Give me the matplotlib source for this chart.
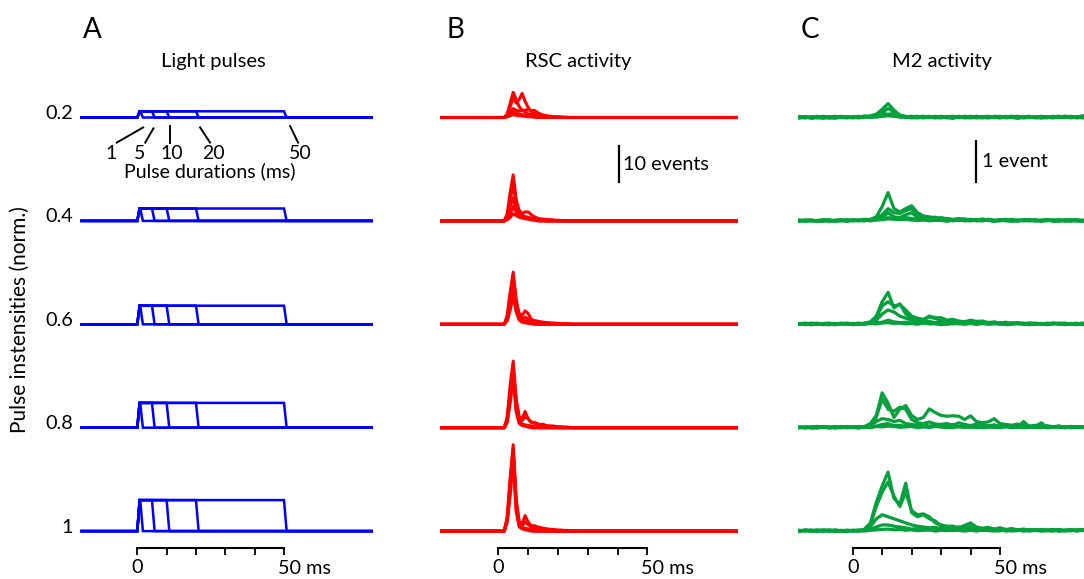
import numpy as np
import matplotlib.pyplot as plt

plt.rcParams['font.family'] = ['Lato', 'DejaVu Sans']

# ---- data ----
intensities = [0.2, 0.4, 0.6, 0.8, 1.0]
intensity_labels = ['0.2', '0.4', '0.6', '0.8', '1']
durations = [1, 5, 10, 20, 50]          # ms
rise_ms = 0.8                            # light ramp up/down
fall_ms = 0.9

# RSC activity (events), 1 ms bins starting at pulse onset; zero elsewhere
rsc_t0 = 0
rsc = [
    [[0, 0, 0, 1.0, 4.0, 7.0, 5.0, 3.0, 2.0, 1.5, 1.0, 0.8, 0.6, 0.5, 0.4, 0.3, 0.3, 0.2, 0.2, 0.1, 0.1, 0.1],
     [0, 0, 0, 0.8, 3.0, 5.5, 4.0, 5.0, 6.7, 4.5, 2.8, 1.8, 2.0, 1.5, 1.0, 0.7, 0.5, 0.4, 0.3, 0.2, 0.2, 0.1, 0.1, 0.1],
     [0, 0, 0, 0.5, 1.5, 2.5, 2.0, 1.8, 2.0, 2.0, 2.2, 1.8, 1.2, 0.8, 0.5, 0.4, 0.3, 0.2, 0.2, 0.1, 0.1],
     [0, 0, 0, 0.3, 1.0, 1.5, 1.2, 1.0, 0.8, 0.6, 0.5, 0.4, 0.3, 0.2, 0.2, 0.1],
     [0, 0, 0, 0.2, 0.5, 0.8, 0.6, 0.5, 0.4, 0.3, 0.2, 0.2, 0.1]],
    [[0, 0, 0, 2.0, 8.0, 12.8, 6.0, 2.5, 1.5, 1.2, 1.0, 0.8, 0.6, 0.5, 0.4, 0.3, 0.3, 0.2, 0.2, 0.1, 0.1, 0.1],
     [0, 0, 0, 1.5, 6.0, 10.0, 5.0, 3.0, 2.0, 2.5, 2.5, 1.8, 1.2, 0.8, 0.6, 0.5, 0.4, 0.3, 0.3, 0.2, 0.2, 0.1, 0.1],
     [0, 0, 0, 1.0, 4.0, 6.4, 3.0, 1.5, 1.0, 1.0, 0.8, 0.6, 0.5, 0.4, 0.3, 0.2],
     [0, 0, 0, 0.5, 2.0, 4.0, 2.5, 1.5, 1.0, 0.8, 0.6, 0.5, 0.3, 0.2],
     [0, 0, 0, 0.3, 1.0, 2.0, 1.5, 1.0, 0.8, 0.6, 0.5, 0.3, 0.2]],
    [[0, 0, 0, 2.5, 9.0, 14.5, 7.0, 2.5, 1.5, 2.0, 1.5, 1.2, 0.9, 0.8, 0.6, 0.5, 0.4, 0.4, 0.3, 0.3, 0.2, 0.2, 0.1, 0.1, 0.1],
     [0, 0, 0, 2.0, 8.0, 13.0, 6.0, 3.0, 2.5, 3.7, 3.0, 1.5, 1.0, 0.9, 0.7, 0.6, 0.5, 0.4, 0.3, 0.3, 0.2, 0.2, 0.1, 0.1],
     [0, 0, 0, 1.5, 6.0, 11.0, 5.0, 2.0, 1.2, 1.0, 0.8, 0.6, 0.5, 0.4, 0.3, 0.2],
     [0, 0, 0, 1.2, 5.0, 9.0, 4.0, 1.5, 0.8, 0.6, 0.4, 0.3, 0.2],
     [0, 0, 0, 1.0, 4.0, 8.0, 3.5, 1.2, 0.6, 0.4, 0.3, 0.2]],
    [[0, 0, 0, 3.0, 12.0, 18.5, 8.0, 3.0, 2.5, 4.5, 2.5, 1.5, 1.5, 1.2, 0.8, 1.0, 0.6, 0.5, 0.5, 0.4, 0.3, 0.3, 0.2, 0.2, 0.1],
     [0, 0, 0, 2.5, 10.0, 17.0, 7.0, 3.0, 2.0, 3.0, 2.5, 1.5, 1.2, 1.0, 0.8, 0.7, 0.5, 0.4, 0.3, 0.2],
     [0, 0, 0, 2.0, 9.0, 16.0, 6.0, 2.0, 1.0, 0.8, 0.6, 0.5, 0.3, 0.2],
     [0, 0, 0, 1.8, 8.0, 15.0, 5.0, 1.5, 0.8, 0.6, 0.4, 0.2],
     [0, 0, 0, 1.5, 7.0, 14.0, 4.5, 1.2, 0.6, 0.4, 0.2]],
    [[0, 0, 0, 4.0, 15.0, 24.0, 9.0, 2.5, 2.0, 4.3, 2.5, 1.5, 1.5, 1.2, 1.0, 0.8, 0.7, 0.5, 0.5, 0.4, 0.3, 0.3, 0.2, 0.2, 0.1, 0.1],
     [0, 0, 0, 3.5, 14.0, 23.0, 8.0, 2.5, 1.5, 2.5, 1.8, 1.2, 1.0, 0.8, 0.7, 0.5, 0.4, 0.3, 0.2],
     [0, 0, 0, 3.0, 12.0, 22.0, 7.0, 2.0, 1.0, 0.8, 0.6, 0.5, 0.3, 0.2],
     [0, 0, 0, 3.0, 12.0, 21.0, 6.0, 1.5, 0.8, 0.6, 0.4, 0.2],
     [0, 0, 0, 2.5, 10.0, 20.0, 5.5, 1.2, 0.6, 0.4, 0.2]],
]

# M2 activity, 2 ms bins from -18 to 80 ms, in 1/100 event
m2_times = np.arange(-18, 81, 2)
m2 = [
    [[0, 2, -1, 1, 3, 0, -2, 1, 2, 0, 3, 1, 4, 8, 20, 34, 18, 6, 2, 3, 1, -1, 2, 0, 3, 1, -2, 2, 0, 1, 3, 0, -1, 2, 1, 3, 0, -2, 1, 2, 0, 3, 1, -1, 2, 0, 3, 1, 4, 2],
     [1, -1, 2, 0, -2, 1, 3, 0, -1, 2, 0, 4, 2, 6, 12, 22, 14, 5, 1, 2, 3, 0, 1, 2, -1, 2, 3, 0, 2, -1, 1, 2, 3, 0, -1, 1, 2, 3, 0, 1, 2, -1, 0, 2, 3, 1, 0, 2, -1, 1],
     [-1, 0, 1, 3, 0, -1, 2, 1, 0, 1, 2, 0, 3, 5, 10, 8, 10, 4, 3, 0, 2, 3, 1, -1, 0, 2, 1, 3, -1, 0, 2, 1, 0, 3, 2, -1, 1, 0, 2, 3, -1, 1, 2, 0, 1, 3, 2, -1, 0, 3],
     [2, 1, 0, -1, 1, 2, 0, 3, 1, -1, 1, 2, 0, 2, 4, 6, 5, 2, 0, 1, -1, 2, 0, 3, 1, 0, -1, 2, 1, 3, 0, -1, 2, 1, 0, 2, 3, 1, -1, 0, 1, 2, -1, 3, 0, 1, 2, 0, 3, 1],
     [0, 1, -2, 1, 2, -1, 0, 2, 0, 1, -1, 1, 2, 1, 3, 4, 3, 1, 2, -1, 0, 1, 3, 0, 2, -1, 1, 0, 3, 1, -1, 2, 0, 1, 3, 0, 2, -1, 1, 2, 0, -1, 1, 2, 0, 3, -1, 2, 1, 0]],
    [[1, 0, 2, -1, 1, 3, 0, 2, -1, 1, 2, 4, 3, 10, 35, 69, 30, 22, 30, 37, 20, 12, 10, 6, 8, 5, 3, 6, 2, 4, 1, 5, 2, 0, 3, 1, 4, 0, 2, 1, 3, 0, 2, 1, -1, 2, 3, 0, 1, 2],
     [0, 2, 1, -1, 2, 0, 1, 3, 0, 2, 1, 0, 4, 8, 15, 30, 20, 18, 25, 30, 15, 10, 8, 9, 5, 6, 3, 4, 5, 2, 3, 1, 4, 2, 0, 3, 2, -1, 3, 1, 0, 2, 3, 1, 2, -1, 1, 3, 0, 2],
     [2, -1, 0, 1, 3, 1, -1, 0, 2, 1, 0, 3, 2, 4, 8, 20, 10, 8, 15, 20, 8, 6, 4, 3, 5, 2, 4, 1, 3, 0, 2, 3, 1, 0, 2, 4, 1, 2, 0, 3, 1, -1, 2, 0, 3, 1, 2, 0, -1, 2],
     [-1, 1, 2, 0, 1, -1, 2, 1, 0, 3, 1, 2, 0, 3, 4, 8, 6, 5, 8, 6, 3, 2, 4, 1, 2, 3, 0, 2, 1, 3, 0, 1, 2, -1, 1, 3, 0, 2, 1, 0, 2, 1, 0, 3, 1, 2, -1, 1, 2, 0],
     [1, 2, 0, 1, -1, 2, 0, 1, 3, 0, 2, 1, 3, 2, 3, 5, 4, 3, 4, 2, 1, 3, 0, 2, 1, -1, 2, 3, 0, 1, 2, 0, 3, 1, 2, 0, -1, 1, 3, 2, 0, 1, 3, -1, 0, 2, 1, 3, 0, 1]],
    [[0, 2, 1, 3, 0, -1, 2, 1, 0, 2, 1, 3, 6, 20, 55, 78, 40, 50, 25, 15, 12, 10, 18, 14, 10, 6, 8, 5, 7, 4, 6, 3, 5, 2, 4, 1, 3, 2, 0, 3, 1, 2, 0, 3, 1, -1, 2, 0, 1, 2],
     [2, 0, -1, 1, 2, 3, 0, 1, 2, -1, 0, 2, 5, 15, 45, 55, 45, 48, 35, 20, 15, 12, 20, 16, 16, 10, 12, 8, 6, 10, 7, 8, 4, 6, 3, 5, 2, 4, 1, 3, 2, 0, 3, 1, 2, 0, 1, 3, -1, 1],
     [1, -1, 2, 0, 1, 2, -1, 3, 1, 0, 2, 1, 4, 10, 25, 35, 30, 20, 15, 10, 8, 6, 7, 4, 6, 3, 5, 2, 4, 3, 1, 4, 2, 3, 0, 2, 3, 1, 2, 0, 3, 1, 0, 2, 3, 1, 2, 0, 3, 1],
     [0, 1, 3, 1, -1, 0, 2, 1, 3, 1, 0, 2, 3, 4, 5, 10, 6, 4, 5, 3, 2, 4, 1, 3, 2, 0, 3, 1, 2, 4, 0, 2, 1, 3, 1, 0, 2, 3, 1, -1, 2, 0, 1, 3, 0, 2, 1, -1, 2, 3],
     [1, 3, 0, 2, 1, 0, -1, 2, 0, 1, 3, 0, 2, 1, 3, 4, 2, 3, 1, 2, 0, 3, 2, 1, -1, 2, 1, 3, 0, 2, 1, 3, 0, 1, 2, -1, 0, 2, 3, 1, 0, 2, -1, 1, 2, 3, 0, 1, 2, 0]],
    [[1, 0, 2, 3, 1, -1, 2, 0, 1, 2, 0, 3, 10, 30, 85, 60, 25, 45, 54, 30, 20, 25, 46, 37, 30, 28, 29, 28, 20, 29, 15, 12, 14, 22, 10, 8, 6, 9, 5, 4, 6, 3, 5, 2, 4, 1, 3, 2, 0, 2],
     [0, 2, -1, 1, 2, 0, 1, 3, 0, 1, 2, 1, 6, 25, 70, 45, 40, 50, 45, 20, 12, 10, 14, 9, 8, 10, 6, 12, 8, 5, 9, 6, 4, 7, 3, 5, 2, 4, 3, 1, 2, 4, 0, 3, 1, 2, 0, 3, 1, 2],
     [2, 1, 0, -1, 2, 1, 3, 0, 2, 1, -1, 2, 5, 15, 22, 20, 15, 18, 10, 8, 6, 7, 4, 6, 3, 5, 8, 3, 4, 2, 5, 3, 4, 1, 3, 2, 4, 1, 15, 2, 3, 12, 1, 2, 4, 0, 2, 1, 3, 0],
     [0, 2, 1, 3, 0, 2, -1, 1, 0, 2, 3, 1, 2, 4, 8, 10, 5, 6, 3, 4, 2, 3, 1, 4, 2, 0, 3, 2, 1, 3, 0, 2, 4, 1, 2, 3, 0, 2, 1, 3, 1, 0, 2, 3, 1, 2, 0, 3, 1, 2],
     [1, -1, 2, 0, 3, 1, 0, 2, 3, 0, 1, 2, 0, 3, 2, 4, 3, 1, 2, 3, 0, 2, 1, 3, 2, 1, 0, 3, 2, 1, 3, 0, 1, 2, 0, 3, 1, 2, 0, 1, 2, 3, 0, 1, 2, 0, 3, 1, 2, 3]],
    [[1, 2, 0, 3, 1, 0, 2, -1, 1, 2, 0, 5, 20, 70, 110, 144, 80, 65, 117, 45, 35, 40, 30, 25, 12, 10, 8, 10, 6, 12, 7, 5, 8, 4, 6, 3, 5, 2, 4, 3, 1, 4, 2, 3, 0, 2, 4, 1, 3, 6],
     [0, 1, 3, 0, 2, 1, -1, 2, 0, 1, 3, 2, 15, 60, 95, 120, 85, 60, 95, 50, 40, 42, 35, 20, 15, 12, 12, 8, 14, 20, 10, 7, 9, 5, 8, 4, 6, 3, 5, 2, 4, 1, 3, 2, 4, 1, 3, 0, 2, 3],
     [2, 0, 1, 2, -1, 3, 1, 0, 2, 1, 0, 3, 10, 30, 40, 35, 30, 25, 20, 15, 12, 10, 8, 9, 6, 7, 4, 8, 5, 3, 6, 2, 4, 3, 1, 4, 2, 3, 0, 2, 3, 1, 2, 4, 0, 2, 1, 3, 2, 1],
     [0, 3, 1, -1, 2, 0, 3, 1, 2, 0, 1, 2, 4, 10, 15, 15, 12, 10, 8, 5, 6, 4, 3, 5, 2, 4, 1, 3, 2, 4, 0, 3, 1, 2, 4, 0, 2, 1, 3, 0, 2, 4, 1, 0, 3, 2, 1, 2, 4, 2],
     [1, 2, 0, 1, 3, 2, 0, 1, -1, 2, 1, 0, 2, 3, 4, 5, 3, 4, 2, 3, 1, 2, 3, 0, 2, 1, 3, 2, 0, 2, 1, 3, 2, 0, 1, 3, 0, 2, 1, 3, 2, 0, 1, 3, 2, 0, 2, 3, 1, 4]],
]

blue = '#0000ff'
red = '#ff0000'
green = '#06a03c'
fs = 14.3

# ---- layout (pixels of the 1084x579 picture) ----
W, H = 1084, 579
fig = plt.figure(figsize=(W / 100, H / 100), dpi=100)
row_px = [117.5 + 103.4 * i for i in range(5)]
top_px, bot_px = 80, 548
t_start, t_end = -19, 80


def make_axes(zero_px, ms_px, ppu):
    left = zero_px + (t_start - 0.5) * ms_px
    width = (t_end - t_start + 1) * ms_px
    ax = fig.add_axes([left / W, (H - bot_px) / H, width / W, (bot_px - top_px) / H])
    ax.set_xlim(t_start - 0.5, t_end + 0.5)
    ax.set_ylim(-(bot_px - row_px[-1]) / ppu, (row_px[-1] - top_px) / ppu)
    for s in ['left', 'top', 'right']:
        ax.spines[s].set_visible(False)
    ax.spines['bottom'].set_bounds(0, 50)
    ax.spines['bottom'].set_linewidth(1.5)
    ax.set_yticks([])
    ax.set_xticks([0, 10, 20, 30, 40, 50], ['0', '', '', '', '', ''])
    ax.tick_params(axis='x', direction='out', length=5, width=1.3, labelsize=fs, pad=3)
    ax.annotate('50 ms', xy=(50, 0), xycoords=('data', 'axes fraction'),
                xytext=(-6, -12), textcoords='offset pixels',
                ha='left', va='top', fontsize=fs)
    offsets = [(row_px[-1] - p) / ppu for p in row_px]
    return ax, offsets


# ---- A: light pulses ----
ppu_a = 31.0
ax_a, off_a = make_axes(137.3, 2.934, ppu_a)
for i, inten in enumerate(intensities):
    for d in durations:
        tt = [t_start, 0, rise_ms, d, d + fall_ms, t_end]
        yy = np.array([0, 0, inten, inten, 0, 0]) + off_a[i]
        ax_a.plot(tt, yy, color=blue, lw=1.8, solid_joinstyle='miter')
    ax_a.text(-21.9, off_a[i] + 4 / ppu_a, intensity_labels[i], ha='right', va='center', fontsize=fs)

# pulse duration call-outs under the first row
lead_from = [(2.0, -0.32), (5.5, -0.35), (11.2, -0.29), (21.4, -0.32), (52.1, -0.28)]
lead_to = [(-7.0, -0.81), (2.7, -0.81), (11.2, -0.81), (24.8, -0.81), (54.8, -0.81)]
label_t = [-9.0, 0.9, 11.7, 25.9, 55.7]
for d, (t0, y0), (t1, y1), tl in zip(durations, lead_from, lead_to, label_t):
    ax_a.plot([t0, t1], [off_a[0] + y0, off_a[0] + y1], color='black', lw=1.4)
    ax_a.text(tl, off_a[0] - 41.5 / ppu_a, str(d), ha='center', va='baseline', fontsize=14)
ax_a.text(24.8, off_a[0] - 59.5 / ppu_a, 'Pulse durations (ms)', ha='center', va='baseline', fontsize=14)

# ---- B: RSC activity ----
ppu_b = 3.6
ax_b, off_b = make_axes(498.3, 2.98, ppu_b)
t_b = np.arange(t_start, t_end + 1)
for i in range(5):
    for tr in rsc[i]:
        y = np.zeros(len(t_b))
        j0 = rsc_t0 - t_start
        y[j0:j0 + len(tr)] = tr
        ax_b.plot(t_b, y + off_b[i], color=red, lw=2.2)
bar_b = 10
yb0 = off_b[0] - 64.5 / ppu_b
ax_b.plot([40.5, 40.5], [yb0, yb0 + bar_b], color='black', lw=1.6)
ax_b.text(42.0, yb0 + bar_b / 2, '10 events', ha='left', va='center', fontsize=fs)

# ---- C: M2 activity ----
ppu_c = 41.0
ax_c, off_c = make_axes(852.7, 2.946, ppu_c)
for i in range(5):
    for tr in m2[i]:
        ax_c.plot(m2_times, np.array(tr) / 100 + off_c[i], color=green, lw=2.3)
bar_c = 1
yc0 = off_c[0] - 64.5 / ppu_c
ax_c.plot([41.8, 41.8], [yc0, yc0 + bar_c], color='black', lw=1.6)
ax_c.text(43.8, yc0 + bar_c / 2, '1 event', ha='left', va='center', fontsize=fs)

# ---- figure texts ----
for letter, title, xl, xt in [('A', 'Light pulses', 92.5, 213),
                               ('B', 'RSC activity', 455, 578),
                               ('C', 'M2 activity', 810, 942)]:
    fig.text(xl / W, 1 - 38 / H, letter, ha='center', va='baseline', fontsize=20)
    fig.text(xt / W, 1 - 67 / H, title, ha='center', va='baseline', fontsize=14.5)
fig.text(20 / W, 1 - 320 / H, 'Pulse instensities (norm.)', rotation=90,
         ha='center', va='center', fontsize=15)

fig.savefig('out.png', dpi=100)
